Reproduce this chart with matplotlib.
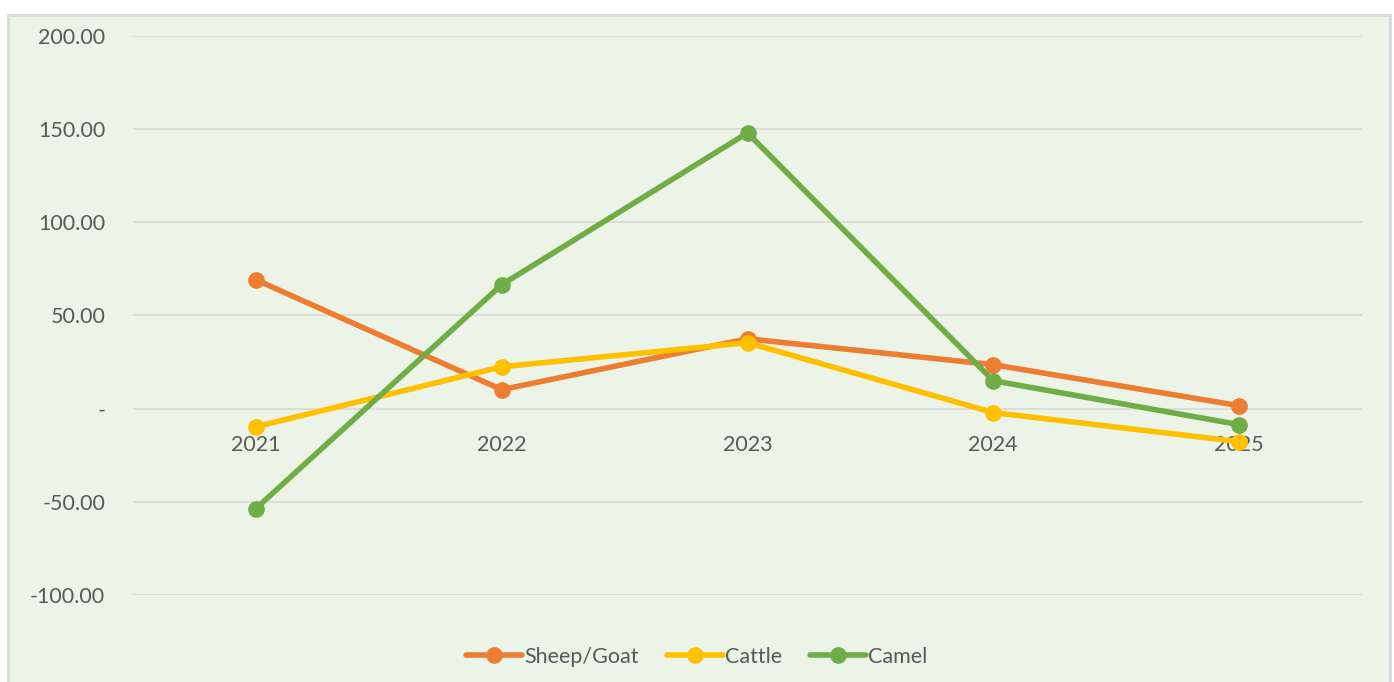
import matplotlib.pyplot as plt
from matplotlib.patches import Rectangle
from matplotlib.ticker import FuncFormatter

years = ["2021", "2022", "2023", "2024", "2025"]
sheep_goat = [69.2, 10.2, 37.5, 23.6, 1.6]
cattle = [-9.7, 22.5, 35.4, -2.1, -17.7]
camel = [-53.6, 66.5, 148.0, 15.0, -8.6]

series = [
    ("Sheep/Goat", sheep_goat, "#ED7D31"),
    ("Cattle", cattle, "#FFC000"),
    ("Camel", camel, "#70AD47"),
]

plt.rcParams['font.family'] = ['Lato', 'DejaVu Sans']
text_col = "#595959"
bg = "#EBF4E7"

fig = plt.figure(figsize=(13.94, 6.82), dpi=100)
fig.patch.set_facecolor("white")
# chart frame, behind the axes
fig.patches.append(Rectangle((8 / 1394, -0.01), 1382 / 1394, 1 - 15 / 682 + 0.01,
                             transform=fig.transFigure, facecolor=bg,
                             edgecolor="#D9D9D9", linewidth=2, zorder=-5))

ax = fig.add_axes([133 / 1394, 1 - 595 / 682, 1229 / 1394, (595 - 36) / 682])
ax.set_facecolor("none")

x = list(range(len(years)))
for name, vals, col in series:
    ax.plot(x, vals, color=col, linewidth=4, marker="o", markersize=11,
            label=name, solid_capstyle="round", zorder=3)

ax.set_xlim(-0.5, len(years) - 0.5)
ax.set_ylim(-100, 200)
ax.set_yticks([-100, -50, 0, 50, 100, 150, 200])
ax.yaxis.set_major_formatter(FuncFormatter(lambda v, p: "-" if v == 0 else f"{v:.2f}"))
ax.grid(axis="y", color="#D9D9D9", linewidth=1.2, zorder=0)
ax.set_axisbelow(True)

ax.set_xticks(x)
ax.set_xticklabels(years)
ax.spines['bottom'].set_position(('data', 0))
for s in ["top", "right", "left", "bottom"]:
    ax.spines[s].set_visible(False)
ax.tick_params(axis="both", length=0, labelsize=15.5, colors=text_col)
ax.tick_params(axis="y", pad=20)
ax.tick_params(axis="x", pad=19)

fig.legend(loc="center", bbox_to_anchor=(0.5, 1 - 657 / 682), ncol=3, frameon=False,
           fontsize=15.5, labelcolor=text_col, handlelength=2.6, handletextpad=0.1,
           columnspacing=1.3)

fig.savefig("out.png", dpi=100)
